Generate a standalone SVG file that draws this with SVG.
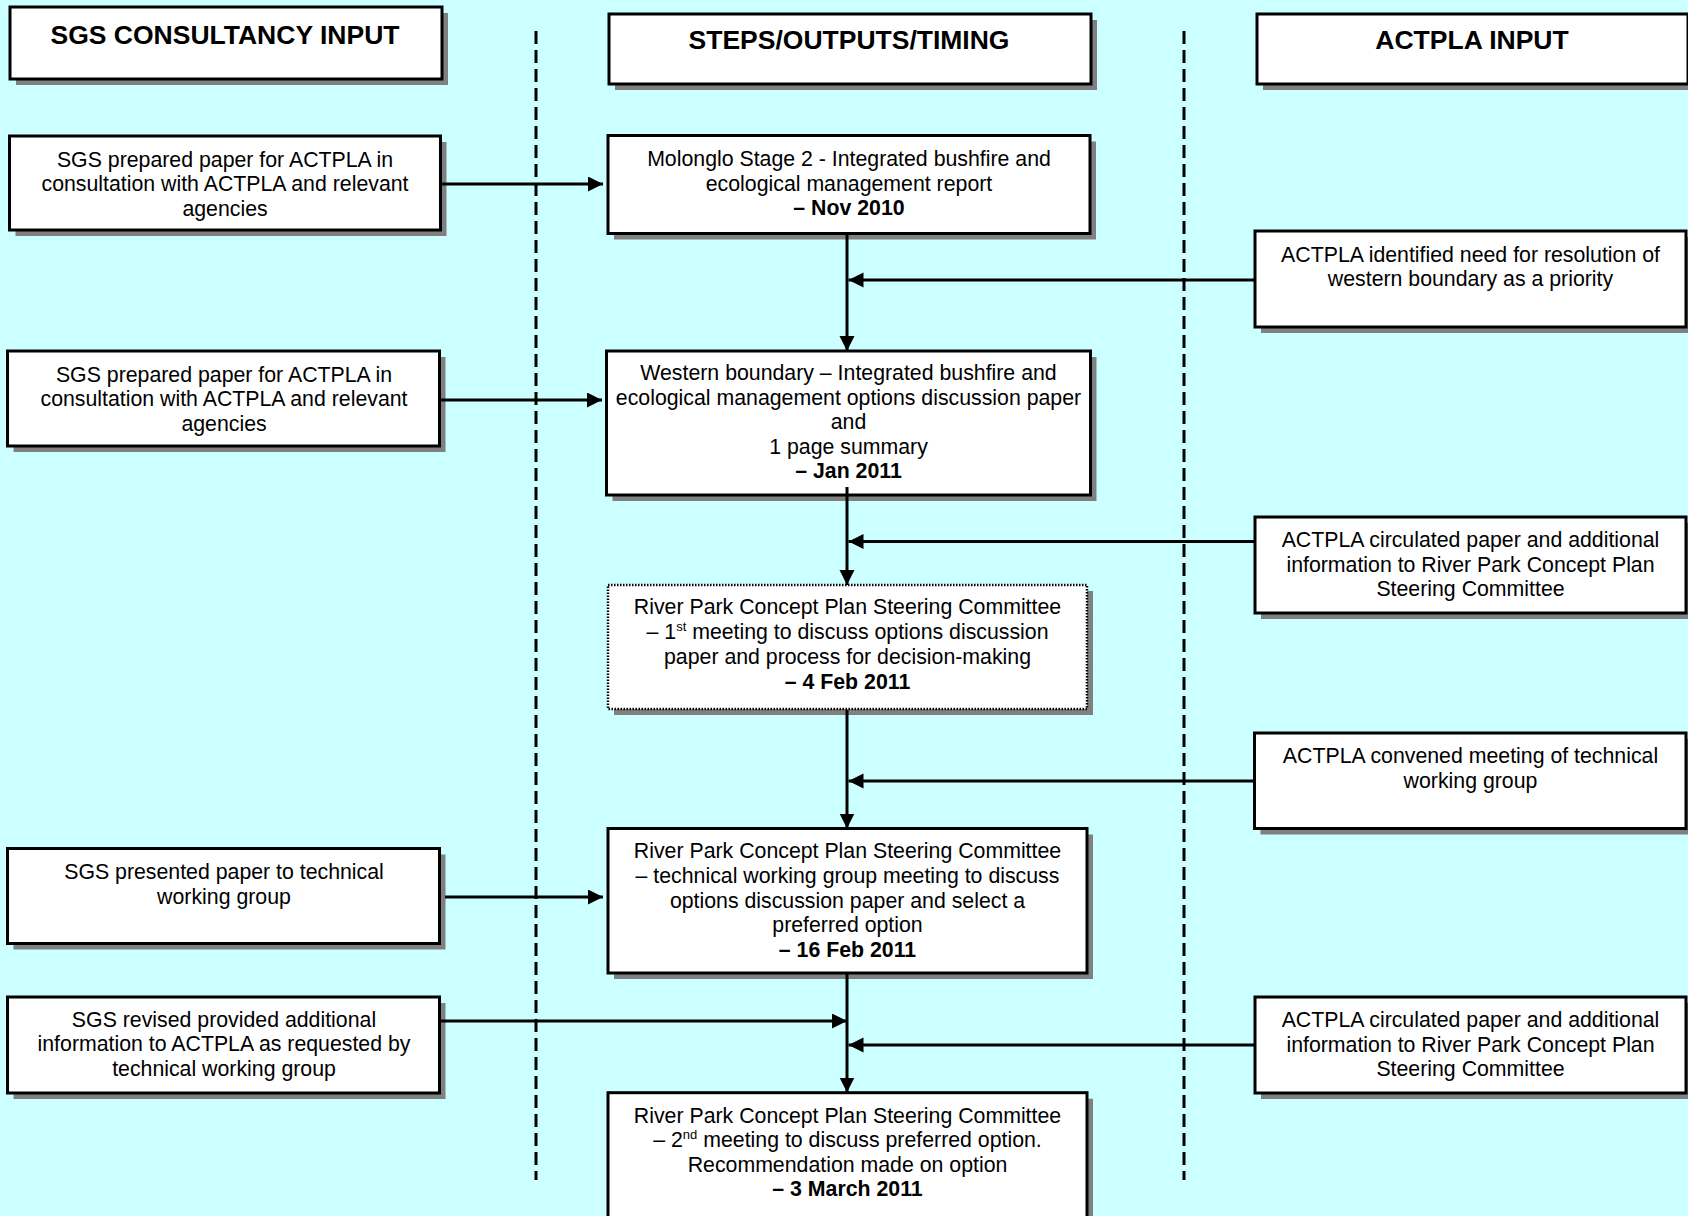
<svg xmlns="http://www.w3.org/2000/svg" width="1688" height="1216" viewBox="0 0 1688 1216">
<style>
.bg{fill:#CCFFFF}
.sh{fill:#808080}
.box{fill:#FFFFFF;stroke:#000;stroke-width:3}
.dot{fill:#FFFFFF;stroke:#000;stroke-width:2.5;stroke-dasharray:1.5 1.5}
.t{font-family:"Liberation Sans",Arial,sans-serif;font-size:21.3px;fill:#000;text-anchor:middle}
.b{font-weight:bold}
.h{font-family:"Liberation Sans",Arial,sans-serif;font-size:26.5px;font-weight:bold;fill:#000;text-anchor:middle}
.sup{font-size:13px}
.con{stroke:#000;stroke-width:3;fill:none}
.lane{stroke:#000;stroke-width:3;stroke-dasharray:13 6;fill:none}
</style>
<defs>
<marker id="ah" markerUnits="userSpaceOnUse" markerWidth="16" markerHeight="16" refX="15" refY="7.5" orient="auto">
<path d="M0,0 L15,7.5 L0,15 z" fill="#000"/>
</marker>
</defs>
<rect class="bg" x="0" y="0" width="1688" height="1216"/>

<g id="lanes">
<line class="lane" x1="536" y1="31" x2="536" y2="1180"/>
<line class="lane" x1="1184" y1="31" x2="1184" y2="1180"/>
</g>

<g id="title-sgs">
<rect class="sh" x="16" y="13" width="432" height="72"/>
<rect class="box" x="10" y="7" width="432" height="72"/>
<text class="h" x="225" y="43.5">SGS CONSULTANCY INPUT</text>
</g>
<g id="title-steps">
<rect class="sh" x="615" y="20" width="482" height="70"/>
<rect class="box" x="609" y="14" width="482" height="70"/>
<text class="h" x="849" y="48.5">STEPS/OUTPUTS/TIMING</text>
</g>
<g id="title-actpla">
<rect class="sh" x="1263" y="20" width="431" height="70"/>
<rect class="box" x="1257" y="14" width="431" height="70"/>
<text class="h" x="1472" y="49">ACTPLA INPUT</text>
</g>

<g id="sgs1">
<rect class="sh" x="15.5" y="142" width="431" height="94"/>
<rect class="box" x="9.5" y="136" width="431" height="94"/>
<text class="t" x="225" y="166.5">SGS prepared paper for ACTPLA in</text>
<text class="t" x="225" y="191">consultation with ACTPLA and relevant</text>
<text class="t" x="225" y="215.5">agencies</text>
</g>
<g id="sgs2">
<rect class="sh" x="13.5" y="357" width="432" height="95"/>
<rect class="box" x="7.5" y="351" width="432" height="95"/>
<text class="t" x="224" y="381.5">SGS prepared paper for ACTPLA in</text>
<text class="t" x="224" y="406">consultation with ACTPLA and relevant</text>
<text class="t" x="224" y="430.5">agencies</text>
</g>
<g id="sgs3">
<rect class="sh" x="13.5" y="854.5" width="432" height="95"/>
<rect class="box" x="7.5" y="848.5" width="432" height="95"/>
<text class="t" x="224" y="878.5">SGS presented paper to technical</text>
<text class="t" x="224" y="903.5">working group</text>
</g>
<g id="sgs4">
<rect class="sh" x="13.5" y="1003" width="432" height="96"/>
<rect class="box" x="7.5" y="997" width="432" height="96"/>
<text class="t" x="224" y="1026.5">SGS revised provided additional</text>
<text class="t" x="224" y="1051">information to ACTPLA as requested by</text>
<text class="t" x="224" y="1075.5">technical working group</text>
</g>

<g id="step1">
<rect class="sh" x="614" y="141.5" width="482" height="98"/>
<rect class="box" x="608" y="135.5" width="482" height="98"/>
<text class="t" x="849" y="165.5">Molonglo Stage 2 - Integrated bushfire and</text>
<text class="t" x="849" y="190.5">ecological management report</text>
<text class="t b" x="849" y="215">– Nov 2010</text>
</g>
<g id="step2">
<rect class="sh" x="612.5" y="357" width="484" height="144"/>
<rect class="box" x="606.5" y="351" width="484" height="144"/>
<text class="t" x="848.5" y="380">Western boundary – Integrated bushfire and</text>
<text class="t" x="848.5" y="404.5">ecological management options discussion paper</text>
<text class="t" x="848.5" y="429">and</text>
<text class="t" x="848.5" y="453.5">1 page summary</text>
<text class="t b" x="848.5" y="478">– Jan 2011</text>
</g>
<g id="step3">
<rect class="sh" x="614" y="591" width="479" height="124"/>
<rect class="dot" x="608" y="585" width="479" height="124"/>
<text class="t" x="847.5" y="613.5">River Park Concept Plan Steering Committee</text>
<text class="t" x="847.5" y="638.5">– 1<tspan class="sup" dy="-8">st</tspan><tspan dy="8"> meeting to discuss options discussion</tspan></text>
<text class="t" x="847.5" y="663.5">paper and process for decision-making</text>
<text class="t b" x="847.5" y="688.5">– 4 Feb 2011</text>
</g>
<g id="step4">
<rect class="sh" x="614" y="834.5" width="479" height="144.5"/>
<rect class="box" x="608" y="828.5" width="479" height="144.5"/>
<text class="t" x="847.5" y="857.5">River Park Concept Plan Steering Committee</text>
<text class="t" x="847.5" y="882.5">– technical working group meeting to discuss</text>
<text class="t" x="847.5" y="907.5">options discussion paper and select a</text>
<text class="t" x="847.5" y="932">preferred option</text>
<text class="t b" x="847.5" y="956.5">– 16 Feb 2011</text>
</g>
<g id="step5">
<rect class="sh" x="614" y="1098.7" width="479" height="130"/>
<rect class="box" x="608" y="1092.7" width="479" height="130"/>
<text class="t" x="847.5" y="1122.7">River Park Concept Plan Steering Committee</text>
<text class="t" x="847.5" y="1147.3">– 2<tspan class="sup" dy="-8">nd</tspan><tspan dy="8"> meeting to discuss preferred option.</tspan></text>
<text class="t" x="847.5" y="1171.7">Recommendation made on option</text>
<text class="t b" x="847.5" y="1195.5">– 3 March 2011</text>
</g>

<g id="act1">
<rect class="sh" x="1261" y="237" width="431" height="96"/>
<rect class="box" x="1255" y="231" width="431" height="96"/>
<text class="t" x="1470.5" y="261.5">ACTPLA identified need for resolution of</text>
<text class="t" x="1470.5" y="286">western boundary as a priority</text>
</g>
<g id="act2">
<rect class="sh" x="1261" y="523" width="431" height="96"/>
<rect class="box" x="1255" y="517" width="431" height="96"/>
<text class="t" x="1470.5" y="546.5">ACTPLA circulated paper and additional</text>
<text class="t" x="1470.5" y="571.5">information to River Park Concept Plan</text>
<text class="t" x="1470.5" y="596">Steering Committee</text>
</g>
<g id="act3">
<rect class="sh" x="1260.5" y="739" width="431.5" height="95.5"/>
<rect class="box" x="1254.5" y="733" width="431.5" height="95.5"/>
<text class="t" x="1470.5" y="762.5">ACTPLA convened meeting of technical</text>
<text class="t" x="1470.5" y="788">working group</text>
</g>
<g id="act4">
<rect class="sh" x="1261" y="1003" width="431" height="96"/>
<rect class="box" x="1255" y="997" width="431" height="96"/>
<text class="t" x="1470.5" y="1026.5">ACTPLA circulated paper and additional</text>
<text class="t" x="1470.5" y="1051.5">information to River Park Concept Plan</text>
<text class="t" x="1470.5" y="1075.5">Steering Committee</text>
</g>

<g id="connectors">
<line class="con" x1="441" y1="184" x2="603" y2="184" marker-end="url(#ah)"/>
<line class="con" x1="440" y1="400" x2="602" y2="400" marker-end="url(#ah)"/>
<line class="con" x1="445" y1="897" x2="603" y2="897" marker-end="url(#ah)"/>
<line class="con" x1="440" y1="1021" x2="847" y2="1021" marker-end="url(#ah)"/>
<line class="con" x1="847" y1="235" x2="847" y2="351" marker-end="url(#ah)"/>
<line class="con" x1="847" y1="487" x2="847" y2="585" marker-end="url(#ah)"/>
<line class="con" x1="847" y1="710" x2="847" y2="828.5" marker-end="url(#ah)"/>
<line class="con" x1="847" y1="974" x2="847" y2="1092.5" marker-end="url(#ah)"/>
<line class="con" x1="1255" y1="280" x2="848.5" y2="280" marker-end="url(#ah)"/>
<line class="con" x1="1255" y1="541.5" x2="848.5" y2="541.5" marker-end="url(#ah)"/>
<line class="con" x1="1254.5" y1="781" x2="848.5" y2="781" marker-end="url(#ah)"/>
<line class="con" x1="1255" y1="1045" x2="848.5" y2="1045" marker-end="url(#ah)"/>
</g>
</svg>
